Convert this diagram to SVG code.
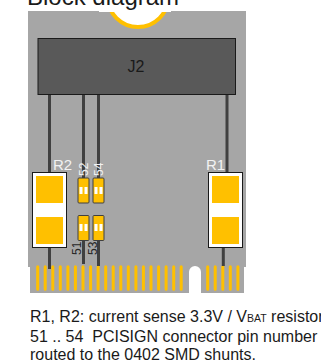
<svg xmlns="http://www.w3.org/2000/svg" width="321" height="361" viewBox="0 0 321 361">
<style>
text{font-family:"Liberation Sans",Arial,sans-serif}
.pin{stroke:#ffc000;stroke-width:3;stroke-linecap:round;fill:none}
.tr{stroke:#404040;stroke-width:3;fill:none}
.pad{fill:#ffc000}
.res{fill:#fff;stroke:#1a1a1a;stroke-width:1}
.sh{fill:#ffc000;stroke:#404040;stroke-width:1}
.wm{fill:#fff}
.lw{fill:#f2f2f2;font-size:15px}
.sw{fill:#f2f2f2;font-size:12px}
.sd{fill:#262626;font-size:12px}
.note{fill:#1a1a1a;font-size:16px}
</style>
<rect width="321" height="361" fill="#fff"/>
<path d="M28 11H246V267H244V293H201V272A6 6 0 0 0 189 272V293H30V267H28Z" fill="#a6a6a6"/>
<circle cx="138" cy="-3.4" r="30.4" fill="#fff" stroke="#ffc000" stroke-width="4"/>
<rect x="99" y="0" width="72" height="12" fill="#fff"/>
<text x="27" y="4.500" font-size="24" fill="#1a1a1a">Block diagram</text>
<g id="edge-pins">
<path class="pin" d="M37.7 266.800V289.200M45.200 266.800V289.200M52.800 266.800V289.200M60.300 266.800V289.200M67.900 266.800V289.200M75.400 266.800V289.200M83 266.800V289.200M90.600 266.800V289.200M98.100 266.800V289.200M105.700 266.800V289.200M113.200 266.800V289.200M120.800 266.800V289.200M128.300 266.800V289.200M135.900 266.800V289.200M143.400 266.800V289.200M151 266.800V289.200M158.600 266.800V289.200M166.100 266.800V289.200M173.700 266.800V289.200M181.200 266.800V289.200M207.700 266.800V289.200M215.200 266.800V289.200M222.800 266.800V289.200M230.300 266.800V289.200M237.900 266.800V289.200"/>
</g>
<g id="connectors">
<path class="tr" d="M49.500 94V172M49.500 248V269M83.500 94V178M83.500 240V264M98.500 94V178M98.500 240V266M227 94V172M223.300 248V266"/>
</g>
<g id="J2">
<rect x="38" y="38.500" width="197.500" height="56" fill="#595959" stroke="#1a1a1a" stroke-width="1"/>
<text x="136" y="71.700" font-size="16" text-anchor="middle" fill="#1a1a1a">J2</text>
</g>
<g id="R2">
<rect class="res" x="32.500" y="172.500" width="34" height="75"/>
<rect class="pad" x="36" y="176" width="27" height="27"/>
<rect class="pad" x="36" y="217" width="27" height="27"/>
<text class="lw" x="53" y="170">R2</text>
</g>
<g id="R1">
<rect class="res" x="208.500" y="172.500" width="34" height="75"/>
<rect class="pad" x="212" y="176" width="27" height="27"/>
<rect class="pad" x="212" y="217" width="27" height="27"/>
<text class="lw" x="206" y="170">R1</text>
</g>
<g id="S52">
<rect class="sh" x="78" y="178" width="11" height="25" rx="1"/>
<rect class="wm" x="79.500" y="187" width="3" height="7"/><rect class="wm" x="84.500" y="187" width="3" height="7"/>
<text class="sw" transform="translate(88 176) rotate(-90)">52</text>
</g>
<g id="S54">
<rect class="sh" x="93" y="178" width="11" height="25" rx="1"/>
<rect class="wm" x="94.500" y="187" width="3" height="7"/><rect class="wm" x="99.500" y="187" width="3" height="7"/>
<text class="sw" transform="translate(103 176) rotate(-90)">54</text>
</g>
<g id="S51">
<rect class="sh" x="78" y="215.500" width="11" height="25" rx="1"/>
<rect class="wm" x="79.500" y="224" width="3" height="7"/><rect class="wm" x="84.500" y="224" width="3" height="7"/>
<text class="sd" transform="translate(81 255) rotate(-90)">51</text>
</g>
<g id="S53">
<rect class="sh" x="93" y="215.500" width="11" height="25" rx="1"/>
<rect class="wm" x="94.500" y="224" width="3" height="7"/><rect class="wm" x="99.500" y="224" width="3" height="7"/>
<text class="sd" transform="translate(97 255) rotate(-90)">53</text>
</g>
<text class="note" x="30" y="322">R1, R2: current sense 3.3V / V<tspan font-size="10.500">BAT</tspan> resistor</text>
<text class="note" x="30" y="341.500" xml:space="preserve">51 .. 54  PCISIGN connector pin number</text>
<text class="note" x="30" y="360">routed to the 0402 SMD shunts.</text>
</svg>
